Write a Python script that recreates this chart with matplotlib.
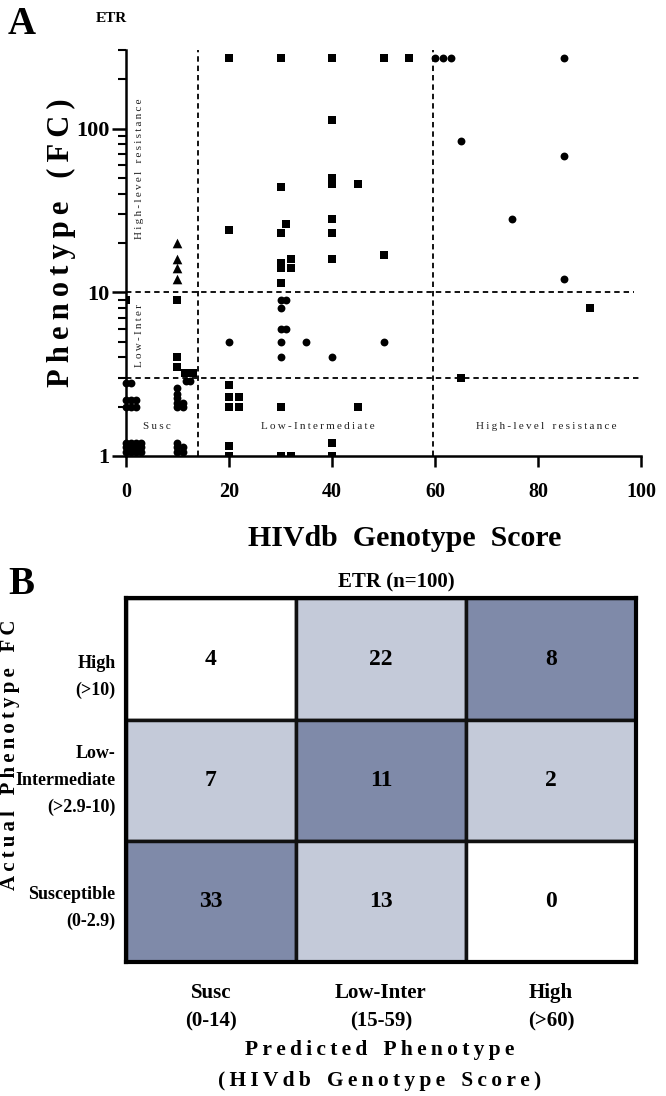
import numpy as np
import matplotlib.pyplot as plt
from matplotlib.ticker import LogLocator, NullFormatter, FixedLocator, FixedFormatter

plt.rcParams['font.family'] = ['Liberation Serif', 'DejaVu Serif']
plt.rcParams['font.weight'] = 'bold'
plt.rcParams['axes.labelweight'] = 'bold'
plt.rcParams['axes.titleweight'] = 'bold'

# ---- panel A data: HIVdb genotype score vs phenotype fold change ----
sq_x = [0, 10, 10, 10, 11.5, 13,
        20, 20, 20, 20, 20, 20, 20, 22, 22,
        30, 30, 30, 30, 30, 30, 30, 30, 31, 32, 32, 32,
        40, 40, 40, 40, 40, 40, 40, 40, 40,
        45, 45, 50, 50, 55, 65, 90]
sq_y = [9.0, 9.0, 4.0, 3.5, 3.2, 3.2,
        270, 24, 2.7, 2.3, 2.0, 1.15, 1.0, 2.3, 2.0,
        270, 44, 23, 15, 14, 11.4, 2.0, 1.0, 26, 16, 14, 1.0,
        270, 113, 50, 46, 28, 23, 16, 1.2, 1.0,
        46, 2.0, 270, 17, 270, 3.0, 8.0]

ci_x = [0, 1,
        0, 1, 2, 0, 1, 2,
        0, 1, 2, 3, 0, 1, 2, 3, 0, 1, 2, 3,
        11.6, 12.5,
        10, 10, 10, 10, 10, 11, 11,
        10, 10, 11, 10, 11,
        20, 30, 31, 30, 30, 31, 30, 30, 35, 40, 50,
        60, 61.5, 63, 65, 75, 85, 85, 85]
ci_y = [2.8, 2.8,
        2.2, 2.2, 2.2, 2.0, 2.0, 2.0,
        1.2, 1.2, 1.2, 1.2, 1.13, 1.13, 1.13, 1.13, 1.06, 1.06, 1.06, 1.06,
        2.85, 2.85,
        2.6, 2.4, 2.25, 2.1, 1.98, 2.1, 1.98,
        1.2, 1.13, 1.13, 1.06, 1.06,
        5.0, 9.0, 9.0, 8.0, 6.0, 6.0, 5.0, 4.0, 5.0, 4.0, 5.0,
        270, 270, 270, 84, 28, 270, 68, 12]

tri_x = [10, 10, 10, 10]
tri_y = [20, 16, 14, 12]

# cut-offs
score_cuts = [14, 59.5]
fc_cuts = [3, 10]

# ---- panel B data: confusion table ----
row_labels = ['High\n(>10)', 'Low-\nIntermediate\n(>2.9-10)', 'Susceptible\n(0-2.9)']
col_labels = ['Susc\n(0-14)', 'Low-Inter\n(15-59)', 'High\n(>60)']
counts = np.array([[4, 22, 8],
                   [7, 11, 2],
                   [33, 13, 0]])
shade_colors = ['#7f8aa9', '#c4cad9', '#ffffff']

TS = '\u2009'


def spaced(s, gap=TS, word='   '):
    return word.join(gap.join(w) for w in s.split(' '))


def fy(px):
    return 1 - px / 1096.0


def fx(px):
    return px / 666.0


fig = plt.figure(figsize=(6.66, 10.96), dpi=100)

# ================= panel A =================
ax = fig.add_axes([0.189, 0.584, 0.774, 0.370])
ax.scatter(sq_x, sq_y, marker='s', s=28, color='black', lw=0, zorder=3)
ax.scatter(ci_x, ci_y, marker='o', s=32, color='black', lw=0, zorder=3, clip_on=False)
ax.scatter(tri_x, tri_y, marker='^', s=48, color='black', lw=0, zorder=3)

ax.set_yscale('log')
ax.set_xlim(0, 100)
ax.set_ylim(1, 300)
dash = (0, (3, 2.2))
ax.plot([score_cuts[0]] * 2, [1, 300], color='black', lw=1.3, ls=dash, zorder=2)
ax.plot([score_cuts[1]] * 2, [1, 300], color='black', lw=1.3, ls=dash, zorder=2)
ax.plot([0, 98.5], [fc_cuts[1]] * 2, color='black', lw=1.3, ls=dash, zorder=2)
ax.plot([0, 100], [fc_cuts[0]] * 2, color='black', lw=1.3, ls=dash, zorder=2)

for sp in ['top', 'right']:
    ax.spines[sp].set_visible(False)
for sp in ['left', 'bottom']:
    ax.spines[sp].set_linewidth(1.8)

ax.set_xticks([0, 20, 40, 60, 80, 100])
ax.tick_params(axis='x', length=8, width=1.8, pad=11, labelsize=14.5)
ax.yaxis.set_major_locator(FixedLocator([1, 10, 100]))
ax.yaxis.set_major_formatter(FixedFormatter(['1', '10', '100']))
ax.yaxis.set_minor_locator(LogLocator(base=10, subs=np.arange(2, 10), numticks=20))
ax.yaxis.set_minor_formatter(NullFormatter())
ax.tick_params(axis='y', which='major', length=10, width=1.8, pad=2, labelsize=16)
ax.tick_params(axis='y', which='minor', length=6, width=1.5)

fig.text(fx(405), fy(538), 'HIVdb  Genotype  Score', fontsize=21.5, ha='center', va='center')
fig.text(fx(61), fy(243), spaced('Phenotype (FC)'), rotation=90, fontsize=22,
         ha='center', va='center')

note = dict(fontsize=8, fontweight='normal', color='#222222')
ax.text(1.7, 57, spaced('High-level resistance'), rotation=90, ha='left', va='center', **note)
ax.text(1.7, 5.45, spaced('Low-Inter'), rotation=90, ha='left', va='center', **note)
ax.text(6, 1.52, spaced('Susc'), ha='center', va='center', **note)
ax.text(37.3, 1.52, spaced('Low-Intermediate'), ha='center', va='center', **note)
ax.text(81.6, 1.52, spaced('High-level resistance'), ha='center', va='center', **note)

fig.text(fx(8), fy(6), 'A', fontsize=28, ha='left', va='top')
fig.text(fx(96), fy(12), 'ETR', fontsize=11, ha='left', va='top')

# ================= panel B =================
bx = fig.add_axes([0.189, 0.122, 0.766, 0.332])
levels = np.abs(np.arange(3)[None, :] - (2 - np.arange(3))[:, None])
for i in range(3):
    for j in range(3):
        bx.add_patch(plt.Rectangle((j, i), 1, 1, facecolor=shade_colors[levels[i, j]],
                                   edgecolor='#111111', lw=2.5))
        bx.text(j + 0.5, i + 0.5, str(counts[i, j]), ha='center', va='center', fontsize=17)
bx.set_xlim(0, 3)
bx.set_ylim(3, 0)
for sp in bx.spines.values():
    sp.set_linewidth(3)
bx.set_xticks([])
bx.set_yticks([])
for j, lab in enumerate(col_labels):
    bx.text(j + 0.5, 3.37, lab, ha='center', va='center', fontsize=15, linespacing=1.55)
row_shift = [0.15, 0.0, 0.05]
for i, lab in enumerate(row_labels):
    bx.text(-0.06, i + 0.5 + row_shift[i], lab, ha='right', va='center', fontsize=13,
            linespacing=1.75)
bx.text(0.53, 1.015, 'ETR (n=100)', ha='center', va='bottom', fontsize=15,
        transform=bx.transAxes)

fig.text(fx(380), fy(1050), spaced('Predicted Phenotype'), fontsize=15.5,
         ha='center', va='center')
fig.text(fx(380), fy(1081), spaced('(HIVdb Genotype Score)'), fontsize=15.5,
         ha='center', va='center')
fig.text(fx(10), fy(755), spaced('Actual Phenotype FC'), rotation=90, fontsize=15,
         ha='center', va='center')

fig.text(fx(8), fy(566), 'B', fontsize=28, ha='left', va='top')

fig.savefig('out.png', dpi=100)
